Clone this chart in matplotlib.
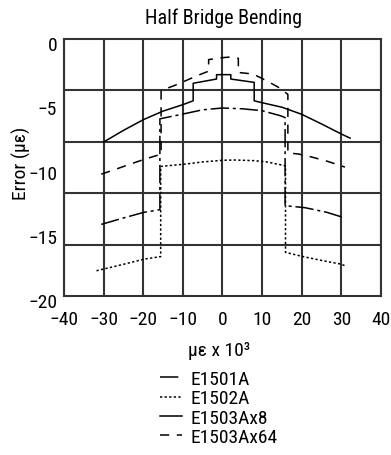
import numpy as np
import matplotlib
matplotlib.use("Agg")
import matplotlib.pyplot as plt
from matplotlib.lines import Line2D
from matplotlib.transforms import ScaledTranslation

plt.rcParams["font.family"] = ["Roboto Condensed", "DejaVu Sans"]

# series (x in ue x 10^3, y = error in ue); repeated x = vertical jump
x_1501 = [-30.6, -25.0, -19.8, -15.8, -15.8, -10.0, -5.0, 0.0, 5.0, 10.0, 14.5, 15.8, 15.8, 20.8, 26.3, 30.9]
y_1501 = [-14.4, -13.9, -13.46, -13.26, -6.2, -5.83, -5.5, -5.36, -5.42, -5.57, -5.95, -6.1, -12.95, -13.1, -13.46, -13.9]

x_1502 = [-31.8, -25.0, -19.8, -15.6, -15.6, -9.0, -5.0, 0.0, 3.0, 8.0, 11.2, 15.9, 15.9, 20.0, 25.0, 29.8, 31.3]
y_1502 = [-18.0, -17.5, -17.1, -16.9, -9.9, -9.7, -9.55, -9.42, -9.4, -9.45, -9.55, -9.85, -16.57, -16.88, -17.2, -17.48, -17.65]

x_ax8 = [-30.0, -25.0, -20.0, -15.0, -10.0, -7.4, -7.4, -1.5, -1.5, 2.1, 2.1, 8.0, 8.0, 10.0, 15.0, 20.0, 25.0, 30.0, 32.2]
y_ax8 = [-8.0, -7.1, -6.27, -5.6, -5.1, -4.8, -3.44, -3.11, -2.77, -2.77, -3.11, -3.37, -4.8, -4.95, -5.3, -5.85, -6.6, -7.38, -7.7]

x_ax64 = [-30.6, -26.8, -23.1, -19.3, -15.5, -15.5, -12.0, -9.0, -6.0, -3.5, -3.5, -2.4, 0.0, 2.0, 4.0, 4.0, 7.7,
          10.2, 14.0, 16.5, 16.5, 19.1, 22.3, 26.5, 30.9]
y_ax64 = [-10.5, -10.1, -9.7, -9.3, -8.95, -4.0, -3.6, -3.2, -2.8, -2.5, -1.6, -1.55, -1.45, -1.4, -1.5, -2.6, -2.72,
          -3.1, -3.73, -4.3, -8.85, -8.93, -9.15, -9.5, -9.95]

labels = ["E1501A", "E1502A", "E1503Ax8", "E1503Ax64"]
x_ticks = [-40, -30, -20, -10, 0, 10, 20, 30, 40]
y_ticks = [0, -5, -10, -15, -20]
y_grid = [-4, -8, -12, -16]

styles = [(0, (12, 2.5, 2, 2.5)), (0, (1.5, 1.5)), "-", (0, (6, 5))]
grid_col = "#333333"

fig = plt.figure(figsize=(3.91, 4.56), dpi=100)
ax = fig.add_axes([0.1637, 0.3476, 0.8107, 0.5647])

for xs, ys, ls in zip([x_1501, x_1502, x_ax8, x_ax64], [y_1501, y_1502, y_ax8, y_ax64], styles):
    ax.plot(xs, ys, color="black", lw=1.1, ls=ls)

ax.set_xlim(-40, 40)
ax.set_ylim(-20, 0)
ax.set_xticks(x_ticks)
ax.set_yticks(y_ticks)
ax.set_yticks(y_grid, minor=True)
ax.grid(axis="x", which="major", color=grid_col, lw=1.5)
ax.grid(axis="y", which="minor", color=grid_col, lw=1.5)
ax.tick_params(which="both", length=0, labelsize=14)
ax.tick_params(axis="x", pad=10)
ax.tick_params(axis="y", pad=5)
for s in ax.spines.values():
    s.set_color(grid_col)
    s.set_linewidth(1.5)

# y labels in the original sit a few pixels below their values
for lab in ax.get_yticklabels():
    lab.set_transform(lab.get_transform() + ScaledTranslation(0, -0.04, fig.dpi_scale_trans))

fig.text(223.5 / 391, 1 - 18 / 456, "Half Bridge Bending", ha="center", va="center", fontsize=14.5)
fig.text(21 / 391, 1 - 163.5 / 456, "Error (µε)", ha="center", va="center", rotation=90, fontsize=14)
fig.text(219 / 391, 1 - 351 / 456, "µε x 10³", ha="center", va="center", fontsize=14)

handles = [Line2D([], [], color="black", lw=1.1, ls=ls) for ls in styles]
fig.legend(handles, labels, loc="upper left", bbox_to_anchor=(160 / 391, 1 - 371 / 456),
           frameon=False, fontsize=14, handlelength=1.15, handletextpad=0.4,
           labelspacing=0.07, borderpad=0, borderaxespad=0)

fig.savefig("out.png", dpi=100)
